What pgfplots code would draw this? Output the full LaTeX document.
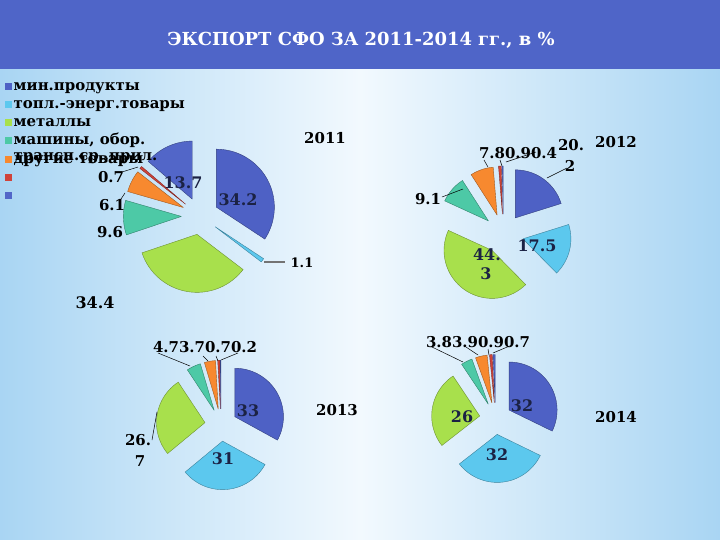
\documentclass[border=0pt]{standalone}
\usepackage{pgfplots}
\pgfplotsset{compat=1.18}
\usepackage{fontspec}
\setmainfont{DejaVu Serif}

\definecolor{hdr}{HTML}{4F65C8}
\definecolor{bgE}{HTML}{A9D5F3}
\definecolor{bgM}{HTML}{F2F9FE}
\definecolor{cMin}{HTML}{4E61C5}
\definecolor{cTop}{HTML}{5CC8EE}
\definecolor{cMet}{HTML}{A8E04C}
\definecolor{cMash}{HTML}{4DC9A6}
\definecolor{cDr}{HTML}{F7892F}
\definecolor{cRed}{HTML}{D0433A}
\definecolor{cBlue}{HTML}{5266C8}
\definecolor{lblc}{HTML}{1B2244}

% wedge: cx cy r explode startangle endangle color (angles clockwise from 12 o'clock)
\newcommand\wedgeplot[7]{%
  \pgfmathsetmacro\wmid{(#5+#6)/2}%
  \pgfmathsetmacro\wox{#1+#4*sin(\wmid)}%
  \pgfmathsetmacro\woy{#2-#4*cos(\wmid)}%
  \pgfmathtruncatemacro\wn{max(2,ceil((#6-#5)/3))}%
  \xdef\wpts{(\wox,\woy)}%
  \foreach \k in {0,...,\wn}{%
    \pgfmathsetmacro\wa{#5+(#6-#5)*\k/\wn}%
    \pgfmathsetmacro\wpx{\wox+#3*sin(\wa)}%
    \pgfmathsetmacro\wpy{\woy-#3*cos(\wa)}%
    \xdef\wpts{\wpts (\wpx,\wpy)}%
  }%
  \xdef\wpts{\wpts (\wox,\woy)}%
  \edef\wcmd{\noexpand\addplot[fill=#7, draw=#7!65!black, line width=0.4bp, forget plot] coordinates {\wpts};}%
  \wcmd
}
% pie: cx cy r explode {value/color,...}
\newcommand\pie[5]{%
  \xdef\ptot{0}%
  \foreach \vv/\cc in {#5}{\pgfmathsetmacro\ptmp{\ptot+\vv}\xdef\ptot{\ptmp}}%
  \xdef\pcum{0}%
  \foreach \vv/\cc in {#5}{%
    \pgfmathsetmacro\aA{(\pcum/\ptot)*360}%
    \pgfmathsetmacro\aB{((\pcum+\vv)/\ptot)*360}%
    \wedgeplot{#1}{#2}{#3}{#4}{\aA}{\aB}{\cc}%
    \pgfmathsetmacro\ptmp{\pcum+\vv}\xdef\pcum{\ptmp}%
  }%
}
\newcommand\lbl{\fontsize{15}{17}\selectfont\bfseries}
\newcommand\inl{\fontsize{16}{18}\selectfont\bfseries}

\begin{document}
\begin{tikzpicture}
\fill[bgE] (0,0) rectangle (720bp,540bp);
\shade[left color=bgE, right color=bgE, middle color=bgM] (0,0) rectangle (720bp,471bp);
\fill[hdr] (0,471bp) rectangle (720bp,540bp);
\begin{axis}[
  x=1bp, y=1bp, xmin=0, xmax=720, ymin=0, ymax=540, y dir=reverse,
  hide axis, clip=false, scale only axis,
  legend cell align=left,
  legend image code/.code={\fill[#1] (0bp,-3.5bp) rectangle (7bp,3.5bp);},
  legend style={at={(axis cs:5,79)}, anchor=north west, draw=none, fill=none,
    font=\fontsize{15}{17}\selectfont\bfseries, row sep=4bp, inner sep=0pt,
    column sep=0pt,
    nodes={inner xsep=1.5bp, inner ysep=0pt, text height=11bp, text depth=3.2bp}},
]
\addlegendimage{fill=cMin, draw=none}
\addlegendentry{мин.продукты}
\addlegendimage{fill=cTop, draw=none}
\addlegendentry{топл.-энерг.товары}
\addlegendimage{fill=cMet, draw=none}
\addlegendentry{металлы}
\addlegendimage{fill=cMash, draw=none}
\addlegendentry{машины, обор.}
\addlegendimage{fill=cDr, draw=none}
\addlegendentry{\rlap{\raisebox{2.5bp}{трансп.ср.,прил.}}другие товары}
\addlegendimage{fill=cRed, draw=none}
\addlegendentry{}
\addlegendimage{fill=cBlue, draw=none}
\addlegendentry{}

% 2011
\pie{200}{216}{58}{18.6}{34.2/cMin,1.1/cTop,34.4/cMet,9.6/cMash,6.1/cDr,0.7/cRed,13.7/cBlue}
% 2012
\pie{503.5}{234}{48}{20}{20.2/cMin,17.5/cTop,44.3/cMet,9.1/cMash,7.8/cDr,0.9/cRed,0.4/cBlue}
% 2013
\pie{221}{425}{48.5}{16.2}{33/cMin,31/cTop,26.7/cMet,4.7/cMash,3.7/cDr,0.7/cRed,0.2/cBlue}
% 2014
\pie{495.5}{418.5}{48}{16}{32/cMin,32/cTop,26/cMet,3.8/cMash,3.9/cDr,0.9/cRed,0.7/cBlue}

% leader lines
\addplot[black!55, line width=1.2bp, forget plot] coordinates {(264,262) (285,262)};
\addplot[black, line width=0.5bp, forget plot] coordinates {(122,172) (138,167)};
\addplot[black, line width=0.5bp, forget plot] coordinates {(119,202) (125,193)};
\addplot[black, line width=0.5bp, forget plot] coordinates {(547,178) (567,168)};
\addplot[black, line width=0.5bp, forget plot] coordinates {(442,197) (463,189)};
\addplot[black, line width=0.5bp, forget plot] coordinates {(484,160) (488,167)};
\addplot[black, line width=0.5bp, forget plot] coordinates {(500,160) (502,166)};
\addplot[black, line width=0.5bp, forget plot] coordinates {(506,162) (536,152)};
\addplot[black, line width=0.5bp, forget plot] coordinates {(158,353) (190,366)};
\addplot[black, line width=0.5bp, forget plot] coordinates {(203,356) (208,361)};
\addplot[black, line width=0.5bp, forget plot] coordinates {(216,356) (218,361)};
\addplot[black, line width=0.5bp, forget plot] coordinates {(221,360) (238,353)};
\addplot[black, line width=0.5bp, forget plot] coordinates {(157,412) (152,440)};
\addplot[black, line width=0.5bp, forget plot] coordinates {(432,347) (463,362)};
\addplot[black, line width=0.5bp, forget plot] coordinates {(466,347) (478,355)};
\addplot[black, line width=0.5bp, forget plot] coordinates {(488,349) (489,355)};
\addplot[black, line width=0.5bp, forget plot] coordinates {(493,353) (512,345)};

% title
\node[white, font=\fontsize{18}{20}\selectfont\bfseries] at (axis cs:361,40) {ЭКСПОРТ СФО ЗА 2011-2014 гг., в \%};

% 2011 labels
\node[font=\lbl] at (axis cs:325,138) {2011};
\node[font=\inl, lblc] at (axis cs:238,200) {34.2};
\node[font=\inl, lblc] at (axis cs:183,183) {13.7};
\node[font=\lbl] at (axis cs:111,177) {0.7};
\node[font=\lbl] at (axis cs:112,205) {6.1};
\node[font=\lbl] at (axis cs:110,232) {9.6};
\node[font=\fontsize{13}{15}\selectfont\bfseries] at (axis cs:302,263) {1.1};
\node[font=\inl] at (axis cs:95,303) {34.4};
% 2012 labels
\node[font=\lbl] at (axis cs:616,142) {2012};
\node[font=\lbl] at (axis cs:571,145) {20.};
\node[font=\lbl] at (axis cs:570,166) {2};
\node[font=\lbl] at (axis cs:518,153) {7.80.90.4};
\node[font=\lbl] at (axis cs:428,199) {9.1};
\node[font=\inl, lblc] at (axis cs:537,246) {17.5};
\node[font=\inl, lblc] at (axis cs:487,255) {44.};
\node[font=\inl, lblc] at (axis cs:486,274) {3};
% 2013 labels
\node[font=\lbl] at (axis cs:337,410) {2013};
\node[font=\lbl] at (axis cs:205,347) {4.73.70.70.2};
\node[font=\inl, lblc] at (axis cs:248,411) {33};
\node[font=\inl, lblc] at (axis cs:223,459) {31};
\node[font=\lbl] at (axis cs:138,440) {26.};
\node[font=\lbl] at (axis cs:140,461) {7};
% 2014 labels
\node[font=\lbl] at (axis cs:616,417) {2014};
\node[font=\lbl] at (axis cs:478,342) {3.83.90.90.7};
\node[font=\inl, lblc] at (axis cs:522,406) {32};
\node[font=\inl, lblc] at (axis cs:462,417) {26};
\node[font=\inl, lblc] at (axis cs:497,455) {32};
\end{axis}
\pgfresetboundingbox
\path (0,0) rectangle (720bp,540bp);
\end{tikzpicture}
\end{document}
